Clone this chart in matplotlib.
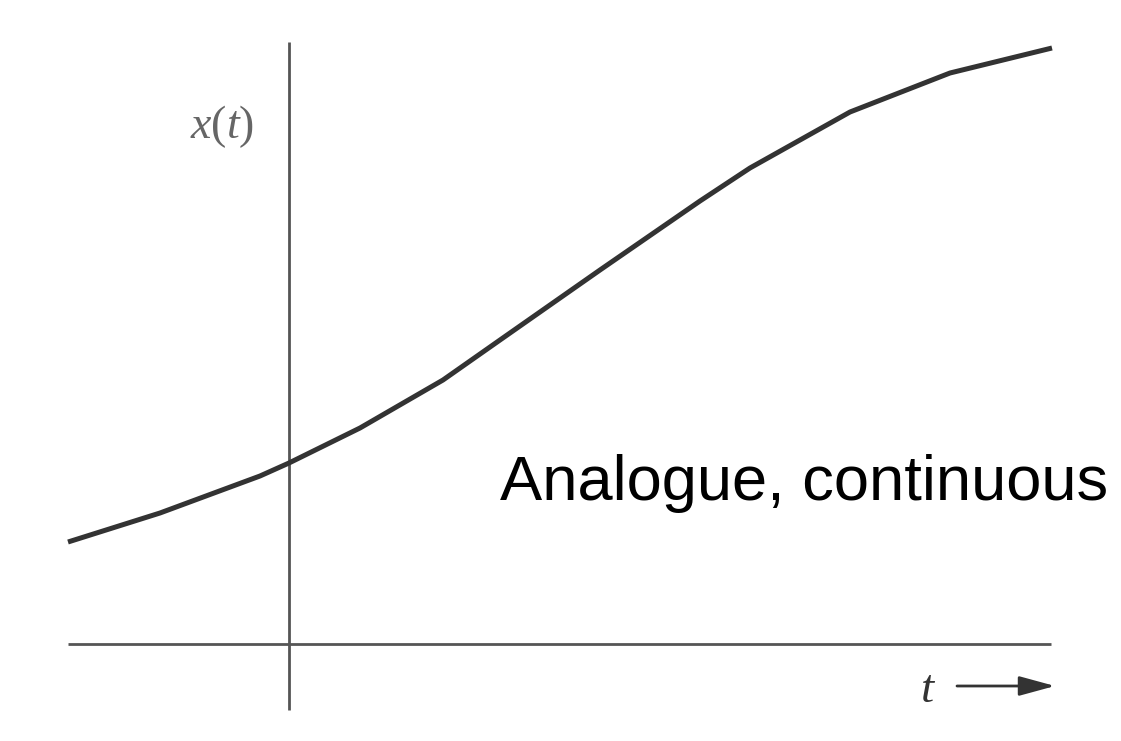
import matplotlib.pyplot as plt

# signal (t, x(t)); axes cross at t=0, x=0
t_vals = [-2.21, -1.29, -0.29, 0.0, 0.71, 1.54, 2.11, 3.11, 4.11, 4.61, 5.61, 6.61, 7.63]
x_vals = [1.02, 1.31, 1.68, 1.81, 2.16, 2.64, 3.04, 3.74, 4.43, 4.76, 5.32, 5.71, 5.96]

t_axis = [-2.21, 7.62]
x_axis = [-0.66, 6.02]

label_text = "Analogue, continuous"

plt.rcParams['mathtext.fontset'] = 'custom'
plt.rcParams['mathtext.rm'] = 'Liberation Serif'
plt.rcParams['mathtext.it'] = 'Liberation Serif:italic'

fig = plt.figure(figsize=(11.21, 7.41), dpi=100)
ax = fig.add_axes([0, 0, 1, 1])
ax.set_xlim(-2.89, 8.32)
ax.set_ylim(-0.97, 6.44)
ax.axis('off')

# axes
ax.plot(t_axis, [0, 0], color='#555555', lw=2.0, solid_capstyle='butt')
ax.plot([0, 0], x_axis, color='#555555', lw=2.0, solid_capstyle='butt')

# signal
ax.plot(t_vals, x_vals, color='#333333', lw=3.6, solid_joinstyle='round', solid_capstyle='butt')

ax.text(-0.67, 5.17, r'$x(t)$', fontsize=33, color='#666666', ha='center', va='center')
ax.text(6.39, -0.45, r'$t$', fontsize=34, color='#333333', ha='center', va='center')
ax.annotate('', xy=(7.66, -0.42), xytext=(6.68, -0.42),
            arrowprops=dict(arrowstyle='-|>,head_length=2.2,head_width=0.6',
                            color='#333333', lw=2.0, shrinkA=0, shrinkB=0))

ax.text(2.11, 1.44, label_text, fontsize=45.5, family='Liberation Sans',
        color='black', ha='left', va='baseline')

fig.savefig('out.png', dpi=100)
